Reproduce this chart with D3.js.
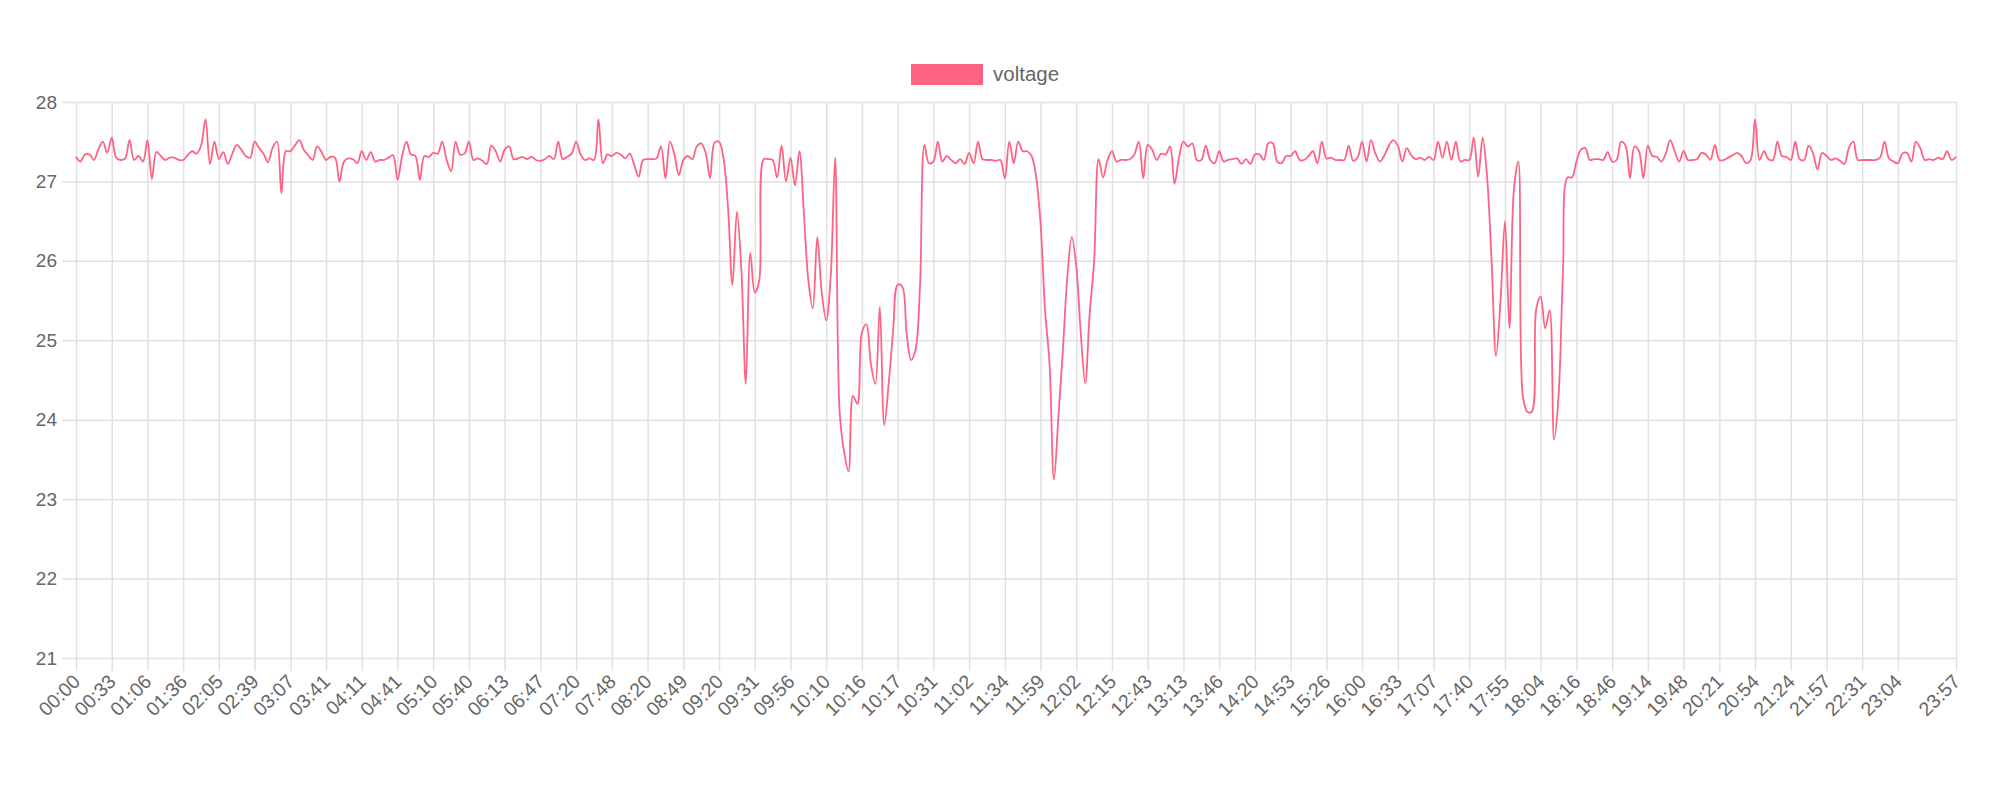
<!DOCTYPE html>
<html>
<head>
<meta charset="utf-8">
<script src="https://cdn.jsdelivr.net/npm/d3@7"></script>
<style>
  body { margin: 0; background: #fff; }
  #my_dataviz { width: 2000px; height: 800px; }
</style>
</head>
<body>
<div id="my_dataviz"></div>
<script>
// x labels that are shown under the axis (every 8th reading + the last one)
const tickLabels = ["00:00","00:33","01:06","01:36","02:05","02:39","03:07","03:41","04:11","04:41",
  "05:10","05:40","06:13","06:47","07:20","07:48","08:20","08:49","09:20","09:31",
  "09:56","10:10","10:16","10:17","10:31","11:02","11:34","11:59","12:02","12:15",
  "12:43","13:13","13:46","14:20","14:53","15:26","16:00","16:33","17:07","17:40",
  "17:55","18:04","18:16","18:46","19:14","19:48","20:21","20:54","21:24","21:57",
  "22:31","23:04","23:57"];
const labelStep = 8;

const yTicks = [21, 22, 23, 24, 25, 26, 27, 28];

// voltage readings, split by part of the day
const voltageNight = [
  27.31,27.25,27.34,27.34,27.27,27.4,27.5,27.36,
  27.55,27.3,27.27,27.29,27.52,27.27,27.32,27.25,
  27.52,27.03,27.37,27.32,27.27,27.3,27.3,27.27,
  27.27,27.33,27.38,27.35,27.45,27.78,27.22,27.5,
  27.28,27.37,27.22,27.35,27.46,27.4,27.32,27.3,
  27.5,27.42,27.35,27.24,27.42,27.5,26.85,27.38,
  27.38,27.45,27.52,27.4,27.33,27.27,27.44,27.37,
  27.27,27.31,27.3,27.0,27.25,27.29,27.28,27.23,
  27.38,27.27,27.37,27.25,27.27,27.27,27.3,27.33,
  27.02,27.31,27.5,27.34,27.32,27.02,27.32,27.31,
  27.36,27.35,27.5,27.27,27.13,27.5,27.34,27.35,
  27.5,27.27,27.29,27.26,27.22,27.45,27.38,27.25,
  27.4,27.44,27.28,27.29,27.31,27.28,27.31,27.27
];
const voltageMorning = [
  27.26,27.28,27.32,27.28,27.5,27.28,27.31,27.35,
  27.5,27.34,27.27,27.29,27.27,27.78,27.23,27.34,
  27.32,27.36,27.34,27.29,27.35,27.21,27.06,27.27,
  27.28,27.28,27.29,27.44,27.04,27.5,27.34,27.08,
  27.27,27.32,27.28,27.44,27.48,27.36,27.04,27.49,
  27.5,27.29,26.68,25.7,26.62,25.89,24.45,26.1,
  25.6,25.75,27.28,27.28,27.27,27.05,27.45,27.0,
  27.3,26.95,27.38,26.6,25.75,25.4,26.3,25.6,
  25.25,25.8,27.3,24.1,23.6,23.35,24.3,24.2,
  25.1,25.2,24.7,24.45,25.42,23.93,24.46,25.13,
  25.7,25.68,25.09,24.75,24.88,25.68,27.46,27.23,
  27.25,27.5,27.25,27.32,27.27,27.23,27.28,27.22,
  27.36,27.23,27.5,27.28,27.27,27.27,27.26,27.27
];
const voltageAfternoon = [
  27.04,27.5,27.23,27.5,27.38,27.38,27.32,27.06,
  26.47,25.38,24.71,23.25,24.04,24.88,25.8,26.3,
  25.93,25.09,24.46,25.34,26.0,27.28,27.05,27.27,
  27.38,27.25,27.27,27.27,27.28,27.34,27.5,27.04,
  27.46,27.4,27.27,27.35,27.34,27.44,26.97,27.3,
  27.5,27.44,27.48,27.27,27.27,27.45,27.27,27.23,
  27.38,27.25,27.27,27.28,27.29,27.22,27.28,27.22,
  27.34,27.34,27.27,27.48,27.48,27.25,27.23,27.32,
  27.32,27.38,27.27,27.27,27.32,27.38,27.23,27.5,
  27.29,27.3,27.27,27.27,27.27,27.45,27.26,27.3,
  27.5,27.25,27.52,27.35,27.25,27.33,27.45,27.52,
  27.45,27.25,27.42,27.33,27.28,27.3,27.27,27.31,
  27.27,27.5,27.3,27.5,27.27,27.5,27.25,27.27
];
const voltageEvening = [
  27.27,27.55,27.06,27.55,27.05,26.0,24.8,25.5,
  26.5,25.15,26.9,27.25,24.3,24.1,24.1,25.4,
  25.55,25.15,25.38,23.75,24.3,25.9,27.05,27.05,
  27.25,27.4,27.42,27.27,27.28,27.28,27.27,27.37,
  27.25,27.27,27.5,27.45,27.04,27.44,27.38,27.04,
  27.45,27.32,27.31,27.25,27.35,27.52,27.38,27.25,
  27.38,27.27,27.27,27.28,27.36,27.34,27.27,27.46,
  27.27,27.27,27.3,27.33,27.36,27.32,27.23,27.27,
  27.78,27.27,27.38,27.28,27.27,27.5,27.32,27.31,
  27.27,27.5,27.28,27.27,27.45,27.35,27.15,27.36,
  27.32,27.27,27.29,27.26,27.22,27.42,27.5,27.27,
  27.27,27.27,27.27,27.27,27.3,27.5,27.29,27.25,
  27.23,27.35,27.36,27.25,27.5,27.42,27.27,27.28,
  27.27,27.3,27.28,27.38,27.27,27.31
];
const voltage = voltageNight.concat(voltageMorning, voltageAfternoon, voltageEvening);

const margin = {top: 102, right: 44, bottom: 142, left: 76},
  width = 2000 - margin.left - margin.right,
  height = 800 - margin.top - margin.bottom;

const gridColor = "#e1e1e1";
const lineColor = "rgb(255, 99, 132)";
const textColor = "#666";
const font = "'Liberation Sans', Arial, Helvetica, sans-serif";

const root = d3.select("#my_dataviz")
  .append("svg")
  .attr("width", 2000)
  .attr("height", 800);

const svg = root.append("g")
  .attr("transform", `translate(${margin.left},${margin.top})`);

const x = d3.scaleLinear()
  .domain([0, voltage.length - 1])
  .range([0, width]);

const y = d3.scaleLinear()
  .domain([d3.min(yTicks), d3.max(yTicks)])
  .range([height, 0]);

const tickIdx = tickLabels.map((d, i) => i < tickLabels.length - 1 ? i * labelStep : voltage.length - 1);

// vertical grid + x ticks
const xAxis = d3.axisBottom(x)
  .tickValues(tickIdx)
  .tickSize(-height - 13)
  .tickFormat((d, i) => tickLabels[i]);

const gx = svg.append("g")
  .attr("transform", `translate(0, ${height + 13})`)
  .call(xAxis);
gx.select(".domain").remove();
gx.selectAll("line")
  .attr("stroke", gridColor)
  .attr("stroke-width", 1.5);
gx.selectAll("text")
  .attr("y", 0)
  .attr("dy", "0.35em")
  .attr("transform", "translate(0,7)rotate(-45)")
  .style("text-anchor", "end")
  .style("fill", textColor)
  .style("font-size", "19.5px")
  .style("font-family", font);

// horizontal grid + y ticks
const yAxis = d3.axisLeft(y)
  .tickValues(yTicks)
  .tickSize(-width - 14)
  .tickPadding(5)
  .tickFormat(d3.format("d"));

const gy = svg.append("g")
  .attr("transform", "translate(-14,0)")
  .call(yAxis);
gy.select(".domain").remove();
gy.selectAll("line")
  .attr("stroke", gridColor)
  .attr("stroke-width", 1.5);
gy.selectAll("text")
  .style("fill", textColor)
  .style("font-size", "19px")
  .style("font-family", font);

// the line
const line = d3.line()
  .x((d, i) => x(i))
  .y(d => y(d))
  .curve(d3.curveCatmullRom.alpha(0.5));

svg.append("path")
  .datum(voltage)
  .attr("fill", "none")
  .attr("stroke", lineColor)
  .attr("stroke-width", 1.8)
  .attr("d", line);

// legend
const legend = root.append("g")
  .attr("transform", "translate(911,64)");
legend.append("rect")
  .attr("width", 72)
  .attr("height", 21)
  .attr("fill", lineColor);
legend.append("text")
  .attr("x", 82)
  .attr("y", 17)
  .style("fill", textColor)
  .style("font-size", "20.5px")
  .style("font-family", font)
  .text("voltage");
</script>
</body>
</html>
